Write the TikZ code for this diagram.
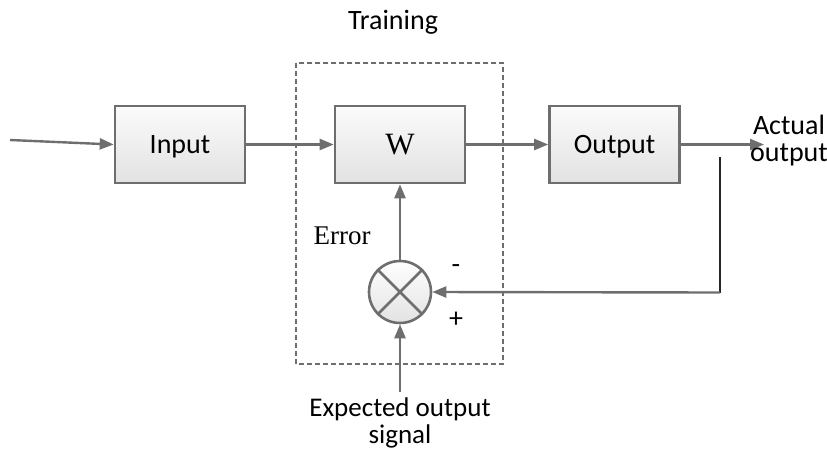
\documentclass[tikz,border=0pt]{standalone}
\usepackage{fontspec}
\setmainfont{Carlito}
\newfontfamily\serifx{Liberation Serif}
\usetikzlibrary{arrows.meta}
\definecolor{edge}{HTML}{6E6E6E}
\definecolor{boxtop}{HTML}{FBFBFB}
\definecolor{boxbot}{HTML}{E2E2E2}
\tikzset{
  blk/.style={draw=edge, line width=2.6pt, top color=boxtop, bottom color=boxbot,
    minimum width=130pt, minimum height=77pt, inner sep=0pt,
    text height=18pt, text depth=0pt,
    font=\fontsize{28}{32}\selectfont},
  conn/.style={draw=edge, line width=2.4pt, -{Triangle[length=14pt,width=11pt]}},
  lbl/.style={font=\fontsize{28}{27}\selectfont, inner sep=0pt, align=center},
}
\begin{document}
\begin{tikzpicture}[x=1pt,y=-1pt]
\useasboundingbox (0,0) rectangle (827,450);
% dashed training box
\draw[edge, line width=2.4pt, dash pattern=on 5pt off 3pt] (296,63) rectangle (503,364);
\node[lbl] (train) at (393,22) {Training};
% blocks
\node[blk] (in) at (180,144.5) {Input};
\node[blk, text height=20pt, font=\serifx\fontsize{31}{34}\selectfont] (w) at (400,144.5) {W};
\node[blk] (out) at (614.5,144.5) {Output};
% summing junction
\node[circle, draw=edge, line width=2.6pt, top color=white, bottom color=boxbot,
  minimum size=62pt, inner sep=0pt] (sum) at (400,292) {};
\draw[edge, line width=2.6pt] (sum.north east) -- (sum.south west);
\draw[edge, line width=2.6pt] (sum.north west) -- (sum.south east);
% connectors
\coordinate (src) at (10,140);
\draw[conn] (src) -- (in.west);
\draw[conn] (in.east) -- (w.west);
\draw[conn] (w.east) -- (out.west);
\coordinate (aout) at (764,144.5);
\draw[conn] (out.east) -- (aout);
\node[lbl] (actual) at (789,141) {Actual\\output};
\coordinate (fbtop) at (720,157);
\coordinate (fbbot) at (720,292.5);
\draw[black!85, line width=2.8pt] (fbtop) -- (fbbot);
\draw[conn] (fbbot) -- (sum.east);
\draw[conn] (sum.north) -- (w.south);
\node[lbl, font=\fontsize{27}{27}\selectfont] (exp) at (400,423) {Expected output\\signal};
\coordinate (expin) at (400,392);
\draw[conn] (expin) -- (sum.south);
% labels
\node[lbl, font=\serifx\fontsize{27}{31}\selectfont] (err) at (342,236) {Error};
\node[lbl] (minus) at (456,269) {-};
\node[lbl] (plus) at (456,320) {+};
\end{tikzpicture}
\end{document}
